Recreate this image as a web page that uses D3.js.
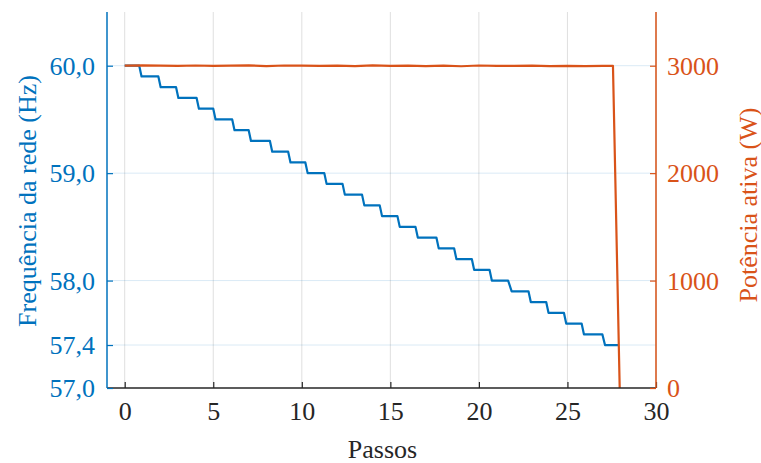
<!DOCTYPE html>
<html>
<head>
<meta charset="utf-8">
<script src="https://cdn.jsdelivr.net/npm/d3@7"></script>
<style>
  html, body { margin: 0; padding: 0; background: #fff; }
  svg { display: block; font-family: "Liberation Serif", "Times New Roman", serif; }
</style>
</head>
<body>
<svg id="chart" width="761" height="463"></svg>
<script>
// ---- data ----
const xTicks = [0, 5, 10, 15, 20, 25, 30];
const freqTicks = [57.0, 57.4, 58.0, 59.0, 60.0];
const powerTicks = [0, 1000, 2000, 3000];

// frequency staircase: levels and step transitions (Passos)
const freqLevels = [60.0, 59.9, 59.8, 59.7, 59.6, 59.5, 59.4, 59.3, 59.2, 59.1, 59.0,
  58.9, 58.8, 58.7, 58.6, 58.5, 58.4, 58.3, 58.2, 58.1, 58.0,
  57.9, 57.8, 57.7, 57.6, 57.5, 57.4];
const stepStart = [0.82, 1.90, 2.90, 4.06, 5.00, 6.07, 7.00, 8.20, 9.23, 10.20, 11.27, 12.30, 13.40,
  14.40, 15.40, 16.42, 17.60, 18.60, 19.60, 20.60, 21.65, 22.80, 23.80, 24.80, 25.80, 26.97];
const stepEnd = [0.95, 2.03, 3.03, 4.19, 5.13, 6.20, 7.13, 8.33, 9.36, 10.33, 11.40, 12.43, 13.53,
  14.53, 15.53, 16.55, 17.73, 18.73, 19.73, 20.73, 21.85, 22.93, 23.93, 24.93, 25.93, 27.12];
const freqStartTime = 0;
const freqEndTime = 27.9;

// active power
const powerTime = [0, 1, 2, 3, 4, 5, 6, 7, 8, 9, 10, 11, 12, 13, 14, 15, 16, 17, 18, 19, 20,
  21, 22, 23, 24, 25, 26, 27, 27.57, 27.95];
const powerValue = [3000, 3003, 3001, 2998, 3002, 2999, 3001, 3003, 2997, 3002, 3000, 2998, 3001,
  2996, 3003, 2999, 3001, 2997, 3000, 2995, 3002, 2998, 2999, 3001, 2996, 2999, 2997, 2998, 2998, 0];

// ---- build frequency points ----
const freqPts = [[freqStartTime, freqLevels[0]]];
for (let i = 0; i < stepStart.length; i++) {
  freqPts.push([stepStart[i], freqLevels[i]]);
  freqPts.push([stepEnd[i], freqLevels[i + 1]]);
}
freqPts.push([freqEndTime, freqLevels[freqLevels.length - 1]]);
const powerPts = powerTime.map((t, i) => [t, powerValue[i]]);

// ---- layout ----
const L = 107, R = 656, T = 12, B = 388;
const blue = "#0072BD", orange = "#D95319", axisGray = "#262626";
const fs = 26;

const svg = d3.select("#chart");
const x = d3.scaleLinear().domain([-1, 30]).range([L, R]);
const yF = d3.scaleLinear().domain([57, 60.5]).range([B, T]);
const yP = d3.scaleLinear().domain([0, 3500]).range([B, T]);

// grid
const grid = svg.append("g");
grid.selectAll("line.v").data(xTicks).join("line")
  .attr("x1", d => x(d)).attr("x2", d => x(d)).attr("y1", T).attr("y2", B)
  .attr("stroke", axisGray).attr("stroke-opacity", 0.15).attr("stroke-width", 1);
grid.selectAll("line.h").data(freqTicks.filter(d => d > 57)).join("line")
  .attr("x1", L).attr("x2", R).attr("y1", d => yF(d)).attr("y2", d => yF(d))
  .attr("stroke", blue).attr("stroke-opacity", 0.15).attr("stroke-width", 1);

// lines
const line = (ys) => d3.line().x(d => x(d[0])).y(d => ys(d[1]));
svg.append("path").datum(freqPts).attr("d", line(yF))
  .attr("fill", "none").attr("stroke", blue).attr("stroke-width", 2.2).attr("stroke-linejoin", "round");
svg.append("path").datum(powerPts).attr("d", line(yP))
  .attr("fill", "none").attr("stroke", orange).attr("stroke-width", 2.2).attr("stroke-linejoin", "round");

// axes
const fmtF = d => d3.format(".1f")(d).replace(".", ",");
const tickLen = 6;

const gx = svg.append("g").attr("transform", `translate(0,${B})`)
  .call(d3.axisBottom(x).tickValues(xTicks).tickSize(-tickLen).tickPadding(14).tickSizeOuter(0));
gx.select(".domain").attr("stroke", axisGray).attr("stroke-width", 1.3)
  .attr("d", `M${L},0H${R}`);
gx.selectAll(".tick line").attr("stroke", axisGray).attr("stroke-width", 1.2);
gx.selectAll(".tick text").attr("fill", axisGray).attr("font-size", fs)
  .attr("font-family", "Liberation Serif");

const gl = svg.append("g").attr("transform", `translate(${L},0)`)
  .call(d3.axisLeft(yF).tickValues(freqTicks).tickFormat(fmtF).tickSize(-tickLen).tickPadding(12).tickSizeOuter(0));
gl.select(".domain").attr("stroke", blue).attr("stroke-width", 1.5).attr("d", `M0,${B}V${T}`);
gl.selectAll(".tick line").attr("stroke", blue).attr("stroke-width", 1.2);
gl.selectAll(".tick text").attr("fill", blue).attr("font-size", fs)
  .attr("font-family", "Liberation Serif").attr("dy", "0.34em");

const gr = svg.append("g").attr("transform", `translate(${R},0)`)
  .call(d3.axisRight(yP).tickValues(powerTicks).tickFormat(d3.format("d")).tickSize(-tickLen).tickPadding(11).tickSizeOuter(0));
gr.select(".domain").attr("stroke", orange).attr("stroke-width", 1.5).attr("d", `M0,${B}V${T}`);
gr.selectAll(".tick line").attr("stroke", orange).attr("stroke-width", 1.2);
gr.selectAll(".tick text").attr("fill", orange).attr("font-size", fs)
  .attr("font-family", "Liberation Serif").attr("dy", "0.34em");

// axis labels
svg.append("text").attr("x", (L + R) / 2 + 1).attr("y", 458).attr("text-anchor", "middle")
  .attr("font-size", fs).attr("fill", axisGray).text("Passos");
svg.append("text").attr("transform", `translate(27,${(T + B) / 2 + 1}) rotate(-90)`)
  .attr("text-anchor", "middle").attr("dominant-baseline", "central")
  .attr("font-size", fs).attr("fill", blue).text("Frequência da rede (Hz)");
svg.append("text").attr("transform", `translate(748,${(T + B) / 2 + 5}) rotate(-90)`)
  .attr("text-anchor", "middle").attr("dominant-baseline", "central")
  .attr("font-size", fs).attr("fill", orange).text("Potência ativa (W)");
</script>
</body>
</html>
